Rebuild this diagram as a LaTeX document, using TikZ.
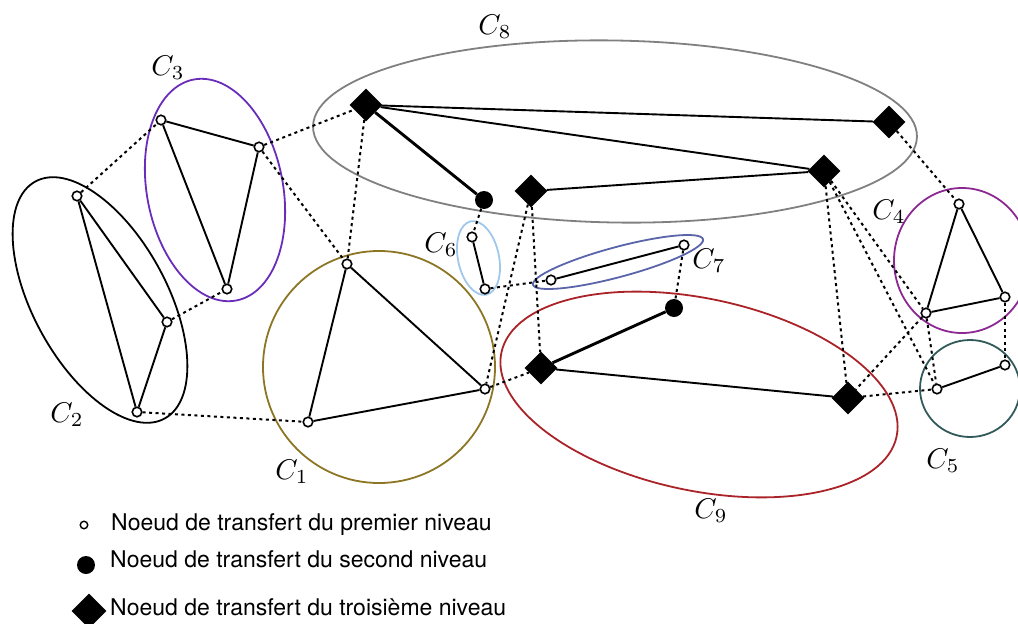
\documentclass[tikz,border=0pt]{standalone}
\usepackage{fontspec}
\setsansfont{TeX Gyre Heros}
\usetikzlibrary{shapes.geometric}

\definecolor{cgray}{RGB}{128,128,128}
\definecolor{cviolet}{RGB}{105,45,185}
\definecolor{colive}{RGB}{140,118,35}
\definecolor{clight}{RGB}{160,200,235}
\definecolor{cblue}{RGB}{90,100,170}
\definecolor{cred}{RGB}{170,35,40}
\definecolor{cmagenta}{RGB}{140,40,145}
\definecolor{cteal}{RGB}{50,90,90}

\begin{document}
\begin{tikzpicture}[x=1pt,y=-1pt,
  lvlone/.style={circle, draw, fill=white, line width=1.6pt, minimum size=9.5pt, inner sep=0pt},
  lvltwo/.style={circle, fill=black, minimum size=18pt, inner sep=0pt},
  lvlthree/.style={diamond, fill=black, minimum width=33pt, minimum height=33pt, inner sep=0pt},
  cluster/.style={ellipse, draw, line width=1.8pt, inner sep=0pt},
  link/.style={line width=1.9pt},
  biglink/.style={line width=2.9pt},
  relay/.style={line width=2pt, dash pattern=on 3pt off 3.5pt},
  clabel/.style={font=\normalsize, scale=2.85, inner sep=0pt},
  legend/.style={font=\sffamily\fontsize{23}{26}\selectfont, inner sep=0pt, anchor=base west}]

\clip (0,0) rectangle (1018,624);

% clusters
\node[cluster, cgray, minimum width=604pt, minimum height=182pt, rotate=-1] (C8) at (615,131.5) {};
\node[cluster, cviolet, minimum width=136pt, minimum height=225pt, rotate=11] (C3) at (215,190) {};
\node[cluster, black, minimum width=134pt, minimum height=270pt, rotate=28.6] (C2) at (100,300) {};
\node[cluster, colive, circle, minimum size=232pt] (C1) at (379,367) {};
\node[cluster, clight, minimum width=41pt, minimum height=75pt, rotate=12] (C6) at (478.5,258) {};
\node[cluster, cblue, minimum width=176pt, minimum height=30pt, rotate=15] (C7) at (618,262) {};
\node[cluster, cred, minimum width=404pt, minimum height=192pt, rotate=-12] (C9) at (699,394.5) {};
\node[cluster, cmagenta, minimum width=136pt, minimum height=145pt] (C4) at (962,260.5) {};
\node[cluster, cteal, minimum width=100pt, minimum height=97pt] (C5) at (970,388.5) {};

% cluster labels
\node[clabel] (l8) at (495,27) {$C_8$};
\node[clabel] (l3) at (168,68) {$C_3$};
\node[clabel] (l2) at (67,415) {$C_2$};
\node[clabel] (l1) at (292,472) {$C_1$};
\node[clabel] (l6) at (441,245) {$C_6$};
\node[clabel] (l7) at (709,261) {$C_7$};
\node[clabel] (l4) at (889,212) {$C_4$};
\node[clabel] (l5) at (943,461) {$C_5$};
\node[clabel] (l9) at (711,511) {$C_9$};

% first level nodes
\node[lvlone] (a) at (77,196) {};
\node[lvlone] (b) at (167,322) {};
\node[lvlone] (c) at (137,412) {};
\node[lvlone] (d) at (161,120) {};
\node[lvlone] (e) at (259,147) {};
\node[lvlone] (f) at (227,289) {};
\node[lvlone] (g) at (347,264) {};
\node[lvlone] (h) at (485,389) {};
\node[lvlone] (i) at (308,422) {};
\node[lvlone] (j) at (472,237) {};
\node[lvlone] (k) at (485,289) {};
\node[lvlone] (l) at (551,280) {};
\node[lvlone] (m) at (684,245) {};
\node[lvlone] (n) at (959,204) {};
\node[lvlone] (o) at (1005,297) {};
\node[lvlone] (p) at (926,313) {};
\node[lvlone] (q) at (937,389) {};
\node[lvlone] (r) at (1005,365) {};

% second level nodes
\node[lvltwo] (s1) at (484,200) {};
\node[lvltwo] (s2) at (674,308) {};

% third level nodes
\node[lvlthree] (D1) at (366,105) {};
\node[lvlthree] (D2) at (889,122) {};
\node[lvlthree] (D3) at (824,171) {};
\node[lvlthree] (D4) at (531,191) {};
\node[lvlthree] (D5) at (541,368) {};
\node[lvlthree] (D6) at (848,398) {};

% links inside clusters
\draw[link] (a) -- (b);
\draw[link] (a) -- (c);
\draw[link] (b) -- (c);
\draw[link] (d) -- (e);
\draw[link] (d) -- (f);
\draw[link] (e) -- (f);
\draw[link] (g) -- (h);
\draw[link] (g) -- (i);
\draw[link] (h) -- (i);
\draw[link] (j) -- (k);
\draw[link] (l) -- (m);
\draw[link] (n) -- (o);
\draw[link] (n) -- (p);
\draw[link] (o) -- (p);
\draw[link] (q) -- (r);
\draw[link] (D1) -- (D2);
\draw[link] (D1) -- (D3);
\draw[link] (D4) -- (D3);
\draw[link] (D5) -- (D6);
\draw[biglink] (D1) -- (s1);
\draw[biglink] (D5) -- (s2);

% links between clusters
\draw[relay] (a) -- (d);
\draw[relay] (b) -- (f);
\draw[relay] (c) -- (i);
\draw[relay] (e) -- (D1);
\draw[relay] (e) -- (g);
\draw[relay] (D1) -- (g);
\draw[relay] (s1) -- (j);
\draw[relay] (k) -- (l);
\draw[relay] (D4) -- (h);
\draw[relay] (D4) -- (D5);
\draw[relay] (h) -- (D5);
\draw[relay] (m) -- (s2);
\draw[relay] (D2) -- (n);
\draw[relay] (D3) -- (D6);
\draw[relay] (D3) -- (p);
\draw[relay] (D3) -- (q);
\draw[relay] (p) -- (D6);
\draw[relay] (p) -- (q);
\draw[relay] (D6) -- (q);
\draw[relay] (o) -- (r);

% legend
\node[circle, draw, fill=white, line width=1.4pt, minimum size=7.5pt, inner sep=0pt] (k1) at (84,525) {};
\node[lvltwo, minimum size=18pt] (k2) at (86,565) {};
\node[lvlthree, minimum width=35pt, minimum height=35pt] (k3) at (89,611) {};
\node[legend] (t1) at (111,530) {Noeud de transfert du premier niveau};
\node[legend] (t2) at (110,567) {Noeud de transfert du second niveau};
\node[legend] (t3) at (110,615) {Noeud de transfert du troisième niveau};
\end{tikzpicture}
\end{document}
